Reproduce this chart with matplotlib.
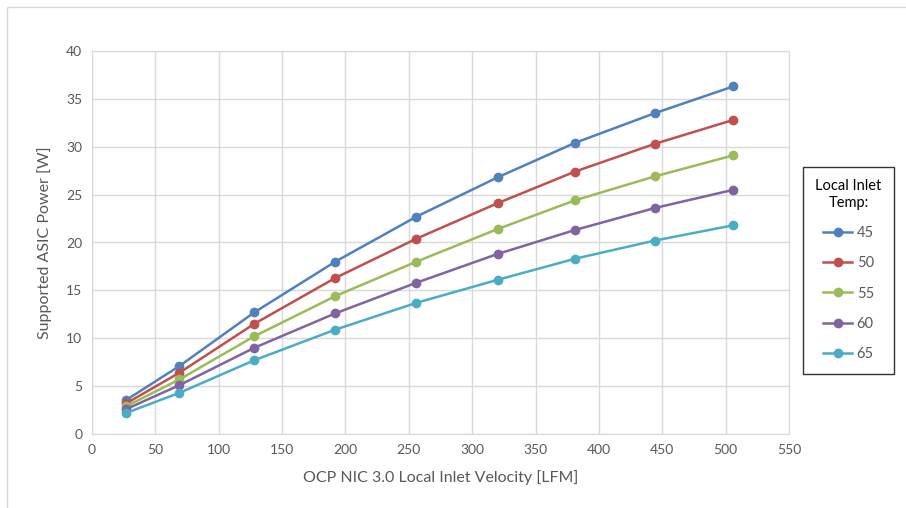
import matplotlib
matplotlib.use("Agg")
import matplotlib.pyplot as plt
from matplotlib.patches import Rectangle

plt.rcParams["font.family"] = ["Lato", "DejaVu Sans"]

# data
velocity = [27, 69, 128, 192, 256, 320, 381, 444, 506]
temps = ["45", "50", "55", "60", "65"]
power_45 = [3.55, 7.1, 12.7, 18.0, 22.7, 26.8, 30.4, 33.5, 36.3]
power_50 = [3.2, 6.4, 11.5, 16.3, 20.4, 24.1, 27.4, 30.3, 32.8]
power_55 = [2.9, 5.7, 10.2, 14.4, 18.0, 21.4, 24.4, 26.9, 29.1]
power_60 = [2.6, 5.1, 9.0, 12.6, 15.8, 18.8, 21.3, 23.6, 25.5]
power_65 = [2.2, 4.3, 7.7, 10.9, 13.7, 16.1, 18.3, 20.2, 21.8]
series = [power_45, power_50, power_55, power_60, power_65]
colors = ["#4F81BD", "#C0504D", "#9BBB59", "#8064A2", "#4BACC6"]

fig = plt.figure(figsize=(9.06, 5.08), dpi=100)
ax = fig.add_axes([92 / 906, 1 - 434 / 508, (789 - 92) / 906, (434 - 51) / 508])

# outer chart-area border
fig.patches.append(Rectangle((7 / 906, -0.1), 1.2, 1 - 7 / 508 + 0.1,
                             transform=fig.transFigure, fill=False,
                             edgecolor="#D9D9D9", linewidth=1.0))

for vals, c, t in zip(series, colors, temps):
    ax.plot(velocity, vals, color=c, linewidth=1.8, marker="o",
            markersize=6, label=t)

ax.set_xlim(0, 550)
ax.set_ylim(0, 40)
ax.set_xticks(range(0, 551, 50))
ax.set_yticks(range(0, 41, 5))
ax.grid(True, color="#D9D9D9", linewidth=1.0)
ax.set_axisbelow(True)
for s in ax.spines.values():
    s.set_color("#D9D9D9")
ax.tick_params(length=0, colors="#595959", labelsize=10, pad=7)

ax.set_xlabel("OCP NIC 3.0 Local Inlet Velocity [LFM]", fontsize=11.5,
              color="#595959", labelpad=10)
ax.set_ylabel("Supported ASIC Power [W]", fontsize=11.5, color="#595959",
              labelpad=10)

leg = fig.legend(*ax.get_legend_handles_labels(), title="Local Inlet\nTemp:",
                 loc="upper left", bbox_to_anchor=(803 / 906, 1 - 167 / 508),
                 bbox_transform=fig.transFigure, alignment="center",
                 frameon=True, fancybox=False, fontsize=10.5,
                 title_fontsize=10.5, labelspacing=1.12, handlelength=2.0,
                 borderpad=0.85, borderaxespad=0, handletextpad=0.3)
leg.get_frame().set_edgecolor("#000000")
leg.get_frame().set_linewidth(1.0)
leg.get_title().set_multialignment("center")
for txt in leg.get_texts():
    txt.set_color("#595959")

fig.savefig("out.png", dpi=100)
